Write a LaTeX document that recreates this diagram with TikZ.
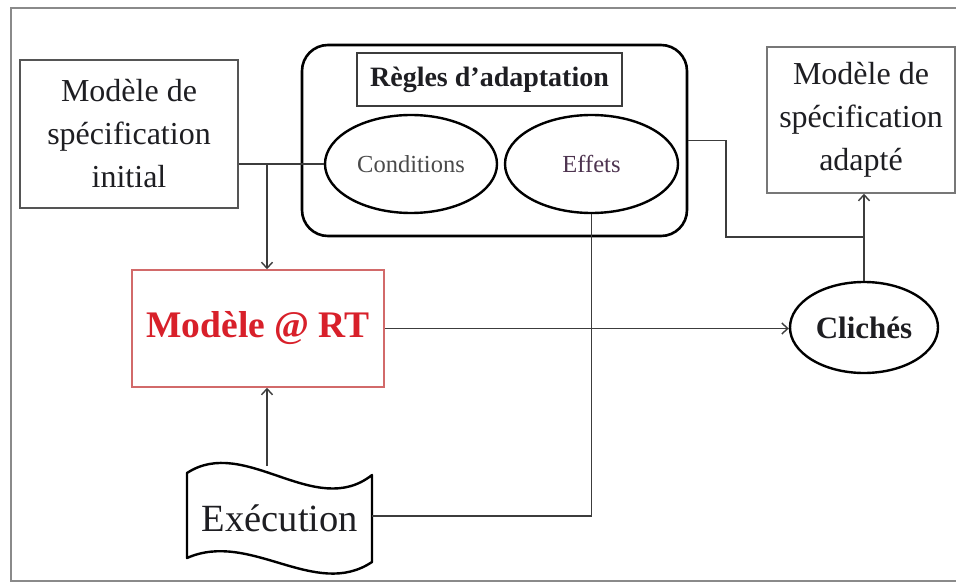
\documentclass[tikz,border=0pt]{standalone}
\usepackage{fontspec}
\setmainfont{Liberation Serif}
\usetikzlibrary{shapes.geometric,arrows.meta}

\definecolor{linegray}{HTML}{3C3C3C}
\definecolor{framegray}{HTML}{8A8A8A}
\definecolor{boxgray}{HTML}{555555}
\definecolor{rtred}{HTML}{D8202A}
\definecolor{rtborder}{HTML}{D26A6A}
\definecolor{txtdark}{HTML}{1E1E22}
\definecolor{condtxt}{HTML}{4A4A4A}
\definecolor{efftxt}{HTML}{4E3450}

\tikzset{
  specbox/.style={draw=boxgray, line width=1.8pt, inner sep=0pt, align=center,
    text=txtdark, font=\fontsize{32}{43}\selectfont},
  oval/.style={ellipse, draw=black, line width=2.4pt, inner sep=0pt},
  conn/.style={draw=linegray, line width=1.7pt},
  arr/.style={conn, -{Straight Barb[length=6pt,width=11pt,line width=1.4pt]}},
}

\begin{document}
\begin{tikzpicture}[x=1pt, y=-1pt]
\useasboundingbox (0,0) rectangle (956,583);
\fill[white] (0,0) rectangle (956,583);

% outer frame
\draw[framegray, line width=2pt] (956,8) -- (11,8) -- (11,581) -- (956,581);

% specification models
\node[specbox, minimum width=218pt, minimum height=148pt] (init) at (129,134)
  {Modèle de\\spécification\\initial};
\node[specbox, draw=boxgray!80, line width=1.5pt, minimum width=188pt, minimum height=146pt] (adapt) at (861,120)
  {Modèle de\\spécification\\adapté};

% adaptation rules
\node[draw=black, line width=2.6pt, rounded corners=26pt, minimum width=385pt,
  minimum height=191pt, inner sep=0pt] (regles) at (494.5,140.5) {};
\node[draw=linegray, line width=1.5pt, minimum width=265pt, minimum height=53pt,
  inner sep=0pt, font=\bfseries\fontsize{28}{30}\selectfont, text=txtdark] (regtitle) at (489.5,79.5)
  {Règles d’adaptation};
\node[oval, minimum width=172pt, minimum height=98pt, text=condtxt,
  font=\fontsize{24.5}{26}\selectfont] (cond) at (411,164) {Conditions};
\node[oval, minimum width=173pt, minimum height=98pt, text=efftxt,
  font=\fontsize{24.5}{26}\selectfont] (eff) at (591.5,164) {Effets};

% runtime model
\node[draw=rtborder, line width=1.5pt, minimum width=252pt, minimum height=117pt,
  inner sep=0pt, text=rtred, font=\bfseries\fontsize{37.5}{40}\selectfont] (rt) at (258,328.5)
  {Modèle @ RT};

% snapshots
\node[oval, minimum width=148pt, minimum height=91pt, text=txtdark,
  font=\bfseries\fontsize{31}{33}\selectfont] (cli) at (864,327.5) {Clichés};

% execution (wavy document shape)
\draw[black, line width=2.4pt, fill=white, line join=round]
  (187,473) .. controls (245,435) and (315,520) .. (372,475)
  -- (372,562) .. controls (315,600) and (250,530) .. (187,558) -- cycle;
\node[text=txtdark, font=\fontsize{38.5}{40}\selectfont, inner sep=0pt] (exec) at (280,518) {Exécution};
\coordinate (exectop) at (267,466);
\coordinate (execright) at (372,516);

% connectors
\coordinate (j1) at (267,164);
\coordinate (bend) at (726,140.5);
\coordinate (j2) at (cli.north |- regles.south);
\draw[conn] (cond.west) -- (cond.west -| init.east);
\draw[arr] (j1) -- (j1 |- rt.north);
\draw[arr] (exectop) -- (exectop |- rt.south);
\draw[conn] (execright) -| (eff.south);
\draw[arr] (rt.east) -- (rt.east -| cli.west);
\draw[arr] (cli.north) -- (cli.north |- adapt.south);
\draw[conn] (regles.east) -- (bend) |- (j2);
\end{tikzpicture}
\end{document}
